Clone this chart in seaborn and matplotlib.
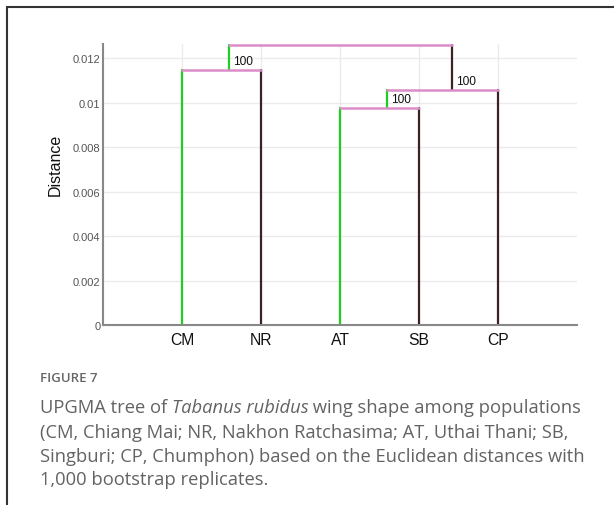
import pandas as pd
import seaborn as sns
import matplotlib.pyplot as plt
from matplotlib.lines import Line2D

# leaves of the UPGMA tree, left to right
leaves = ['CM', 'NR', 'AT', 'SB', 'CP']

# merges: (left child, right child, height); children are leaf names or merge names
merge_names = ['CM_NR', 'AT_SB', 'ATSB_CP', 'root']
merge_left = ['CM', 'AT', 'AT_SB', 'CM_NR']
merge_right = ['NR', 'SB', 'CP', 'ATSB_CP']
merge_height = [0.01146, 0.00975, 0.01056, 0.01258]
bootstrap = [100, 100, 100, None]

yticks = [0, 0.002, 0.004, 0.006, 0.008, 0.01, 0.012]
ytick_labels = ['0', '0.002', '0.004', '0.006', '0.008', '0.01', '0.012']

GREEN = '#22cc22'
DARK = '#3b2224'
PINK = '#dc8cc8'
split = 0.59  # where the link sits between its two children

sns.set_theme(style='white')
plt.rcParams['font.family'] = ['Liberation Sans', 'DejaVu Sans']

# node positions
pos = {name: float(i) for i, name in enumerate(leaves)}
hgt = {name: 0.0 for name in leaves}
rows = []
seg = 0
for name, l, r, h in zip(merge_names, merge_left, merge_right, merge_height):
    xl, xr = pos[l], pos[r]
    rows += [(seg, 'left', xl, hgt[l]), (seg, 'left', xl, h)]
    seg += 1
    rows += [(seg, 'right', xr, hgt[r]), (seg, 'right', xr, h)]
    seg += 1
    rows += [(seg, 'link', xl, h), (seg, 'link', xr, h)]
    seg += 1
    pos[name] = xl + split * (xr - xl)
    hgt[name] = h
segs = pd.DataFrame(rows, columns=['seg', 'kind', 'x', 'y'])

fig = plt.figure(figsize=(6.14, 5.06), dpi=100)
ax = fig.add_axes([0.1678, 0.3557, 0.7719, 0.5554])

for xv in range(len(leaves)):
    ax.axvline(xv, color='#ebebeb', lw=1, zorder=0)
for yv in yticks:
    ax.axhline(yv, color='#ebebeb', lw=1, zorder=0)

sns.lineplot(data=segs[segs.kind != 'link'], x='x', y='y', units='seg', estimator=None,
             hue='kind', palette={'left': GREEN, 'right': DARK}, lw=1.6,
             legend=False, ax=ax, sort=False)
sns.lineplot(data=segs[segs.kind == 'link'], x='x', y='y', units='seg', estimator=None,
             color=PINK, lw=1.8, legend=False, ax=ax, sort=False)

for name, b in zip(merge_names, bootstrap):
    if b is None:
        continue
    ax.text(pos[name] + 0.05, hgt[name] + 0.00012, str(b), fontsize=8.6,
            color='#111111', ha='left', va='bottom')

ax.set_xlim(-1, 5)
ax.set_ylim(0, 0.01263)
ax.set_xticks(range(len(leaves)))
ax.set_xticklabels(leaves, fontsize=11.3, color='#111111')
ax.set_yticks(yticks)
ax.set_yticklabels(ytick_labels, fontsize=8, color='#555555')
ax.tick_params(axis='both', length=0, pad=2)
ax.tick_params(axis='x', pad=5)
ax.set_xlabel('')
ax.set_ylabel('Distance', fontsize=11.5, color='#111111')
ax.yaxis.set_label_coords(-0.084, 0.573)
for side in ['top', 'right']:
    ax.spines[side].set_visible(False)
for side in ['left', 'bottom']:
    ax.spines[side].set_color('#888888')
    ax.spines[side].set_linewidth(1.5)

# frame on top and left of the figure panel
W, H = 614, 506
fig.add_artist(Line2D([7 / W, 1], [1 - 8 / H, 1 - 8 / H], color='#333333', lw=1.5))
fig.add_artist(Line2D([7 / W, 7 / W], [0, 1 - 8 / H], color='#333333', lw=1.5))

cap = dict(family=['Open Sans', 'DejaVu Sans'], color='#636363', fontsize=13.2,
           va='center')
fig.text(40 / W, 1 - 379 / H, 'FIGURE 7', family=['Open Sans', 'DejaVu Sans'],
         color='#666666', fontsize=9.5, va='center', weight='semibold')

parts = [('UPGMA tree of ', 'normal'), ('Tabanus rubidus', 'italic'),
         (' wing shape among populations', 'normal')]
fig.canvas.draw()
renderer = fig.canvas.get_renderer()
x0 = 40
for txt, style in parts:
    t = fig.text(x0 / W, 1 - 408 / H, txt, style=style, **cap)
    x0 = t.get_window_extent(renderer).x1
fig.text(40 / W, 1 - 433 / H, '(CM, Chiang Mai; NR, Nakhon Ratchasima; AT, Uthai Thani; SB,', **cap)
fig.text(40 / W, 1 - 457 / H, 'Singburi; CP, Chumphon) based on the Euclidean distances with', **cap)
fig.text(40 / W, 1 - 480 / H, '1,000 bootstrap replicates.', **cap)

fig.savefig('out.png', dpi=100)
